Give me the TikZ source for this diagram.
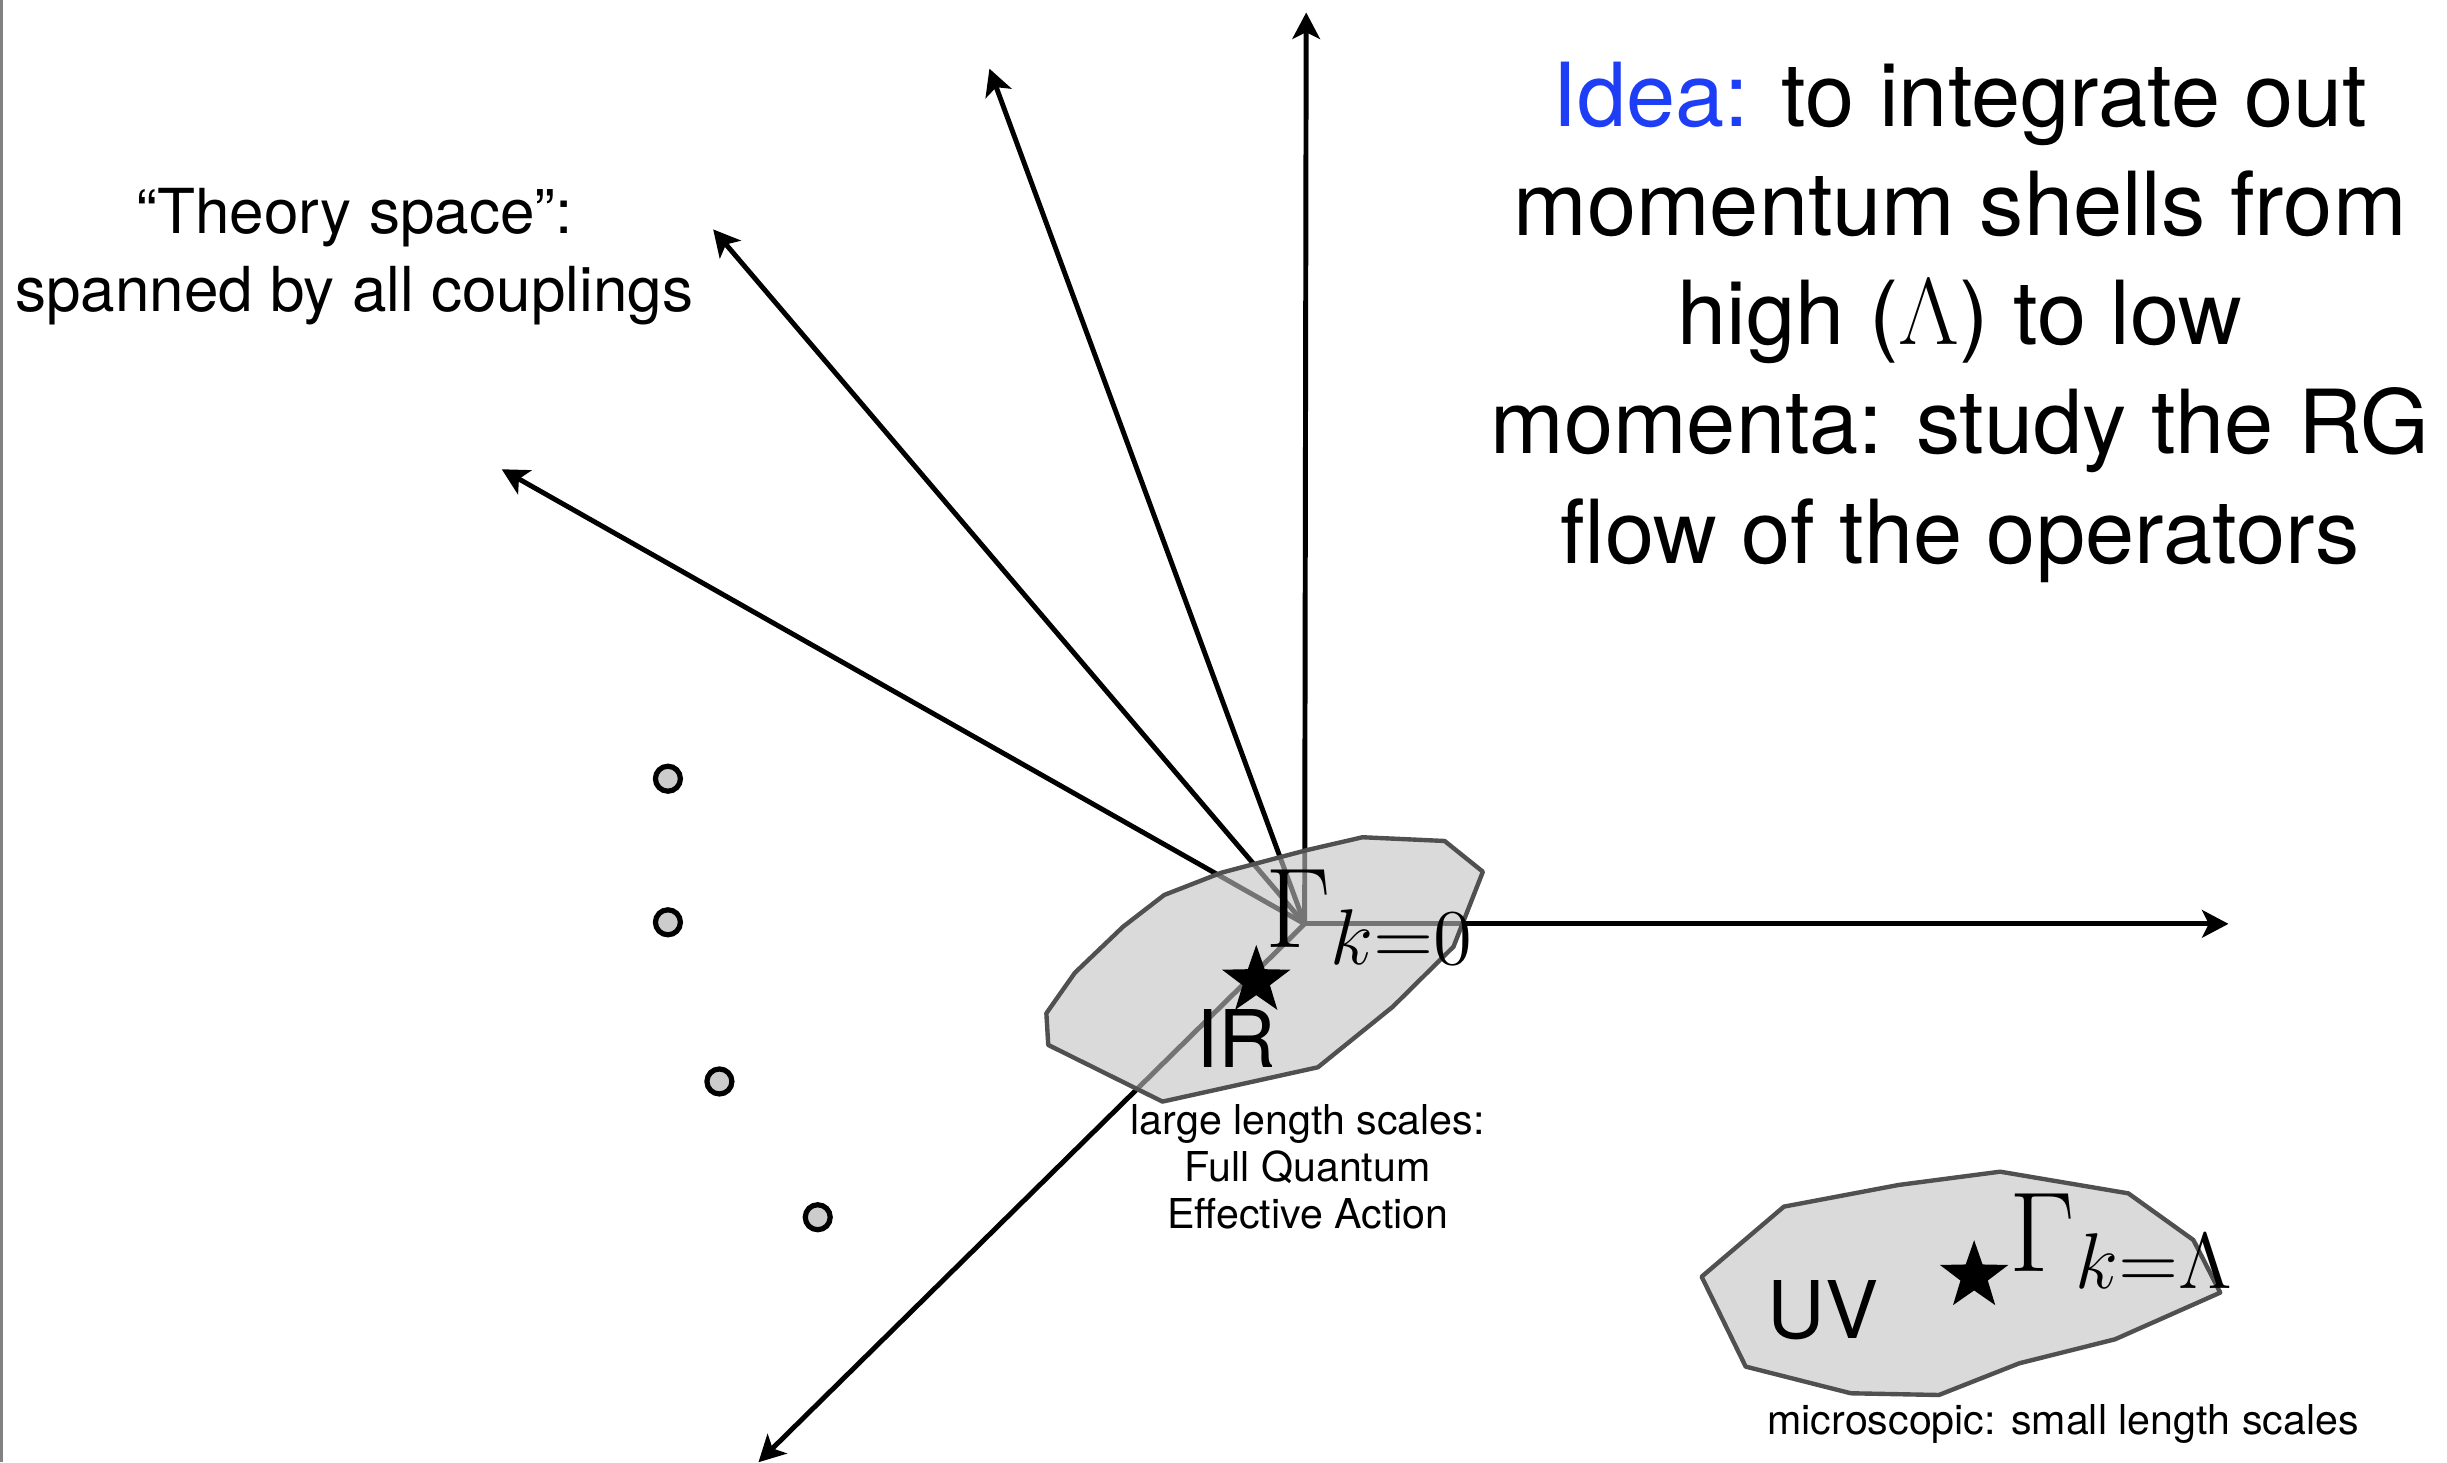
\documentclass[tikz,border=0pt]{standalone}
\usepackage{fontspec}
\setmainfont{TeX Gyre Heros}
\usetikzlibrary{arrows.meta,shapes.geometric}
\definecolor{ideablue}{RGB}{30,62,245}
\definecolor{polyfill}{RGB}{194,194,194}
\definecolor{polyline}{RGB}{80,80,80}
\definecolor{dotfill}{RGB}{204,204,204}
\definecolor{framegray}{RGB}{130,130,130}
\begin{document}
\begin{tikzpicture}[x=0.01cm,y=-0.01cm,
  axis/.style={line width=0.9pt,-{Stealth[length=4.8pt,width=5pt,inset=1.2pt]}},
  region/.style={draw=polyline,line width=0.8pt,fill=polyfill,fill opacity=0.6,line join=round},
  bigtext/.style={inner sep=0pt,align=center,font=\fontsize{16.1}{19.9}\selectfont},
  midtext/.style={inner sep=0pt,align=center,font=\fontsize{11.3}{14.2}\selectfont},
  smalltext/.style={inner sep=0pt,align=center,font=\fontsize{7.5}{8.6}\selectfont},
  labeltext/.style={inner sep=0pt,font=\fontsize{14.5}{16}\selectfont},
  gammatext/.style={inner sep=0pt,font=\fontsize{20}{22}\selectfont},
  fixstar/.style={star,star points=5,star point ratio=2.5,fill=black,inner sep=0pt,minimum size=0.46cm},
  ringdot/.style={circle,draw=black,fill=dotfill,line width=0.95pt,minimum size=0.16cm,inner sep=0pt}]
\useasboundingbox (0,0) rectangle (1568,937);
\draw[framegray,line width=0.5pt] (0.8,0) -- (0.8,937);

% axes
\coordinate (O) at (836,592);
\coordinate (tipN) at (837,8);
\coordinate (tipE) at (1428,592);
\coordinate (tipA) at (634,44);
\coordinate (tipB) at (457,147);
\coordinate (tipC) at (321.5,300.7);
\coordinate (tipD) at (486,937);
\draw[axis] (O) -- (tipN);
\draw[axis] (O) -- (tipE);
\draw[axis] (O) -- (tipA);
\draw[axis] (O) -- (tipB);
\draw[axis] (O) -- (tipC);
\draw[axis] (O) -- (tipD);

% IR region
\draw[region] (873.1,536.5) -- (925.7,538.9) -- (950.2,558.6) -- (931.4,606.6)
  -- (892.5,645.1) -- (844.5,683.9) -- (744.9,705.9) -- (671.7,669.6)
  -- (670.5,649.3) -- (688.8,623.3) -- (719.7,593.8) -- (746,573.5)
  -- (782.7,559.2) -- (837.6,544.7) -- cycle;

% UV region
\draw[region] (1090.4,818.1) -- (1143.1,773.2) -- (1216.7,759.3) -- (1281.7,750.8)
  -- (1363.8,764.7) -- (1405.5,794.6) -- (1422.7,828.3) -- (1355.3,858.2)
  -- (1293.9,873.6) -- (1242.4,893.9) -- (1186,892.8) -- (1118.6,875.7) -- cycle;

% labels in regions
\node[gammatext,anchor=base west] (g0) at (810,607) {$\Gamma_{k=0}$};
\node[gammatext,anchor=base west] (gL) at (1287,815) {$\Gamma_{k=\Lambda}$};
\node[fixstar] (sIR) at (805,628.5) {};
\node[fixstar] (sUV) at (1265,817.7) {};
\node[labeltext,anchor=base west] (ir) at (766,684) {IR};
\node[labeltext,anchor=base west] (uv) at (1132,858) {UV};

% dots
\node[ringdot] (d1) at (428,499) {};
\node[ringdot] (d2) at (428,591) {};
\node[ringdot] (d3) at (461,693) {};
\node[ringdot] (d4) at (524,780) {};

% texts
\node[bigtext,anchor=north] (idea) at (1256,39) {\textcolor{ideablue}{Idea:} to integrate out\\ momentum shells from\\ high (\(\Lambda\)) to low\\ momenta: study the RG\\ flow of the operators};
\node[midtext,anchor=north] (theory) at (227,120) {“Theory space”:\\ spanned by all couplings};
\node[smalltext,anchor=north] (irlabel) at (838,707) {large length scales:\\ Full Quantum\\ Effective Action};
\node[smalltext,anchor=north] (uvlabel) at (1322,899) {microscopic: small length scales};
\end{tikzpicture}
\end{document}
